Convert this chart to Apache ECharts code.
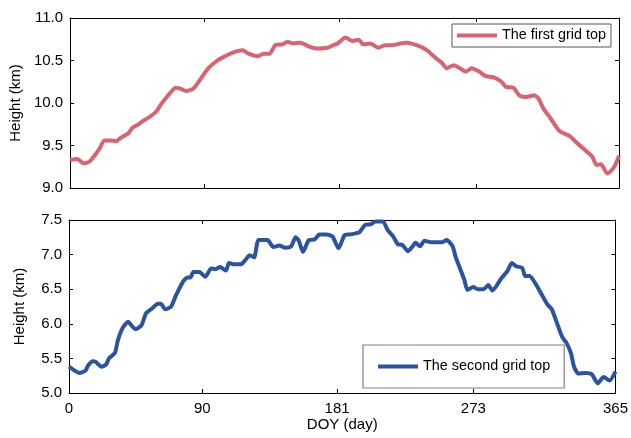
<!DOCTYPE html>
<html>
<head>
<meta charset="utf-8">
<script src="https://cdn.jsdelivr.net/npm/echarts@6/dist/echarts.min.js"></script>
<style>
html,body{margin:0;padding:0;background:#fff;}
#chart{width:631px;height:438px;}
</style>
</head>
<body>
<div id="chart"></div>
<script>
// x positions are in the chart's axis units (the axis runs 0..369, last tick labelled 365)
const xTickPos = [0, 90, 181, 273, 369];
const xTickLabels = ['0', '90', '181', '273', '365'];

const topName = 'The first grid top';
const topDoy = [0,5,9,13,16,20,23,27,31,34,39,42,45,50,53,58,61,65,71,74,78,83,88,93,99,103,109,116,120,126,130,134,138,143,146,150,155,160,166,173,177,180,185,190,194,197,202,207,212,217,222,226,233,240,245,250,253,258,262,266,270,275,279,285,290,293,298,302,306,309,312,315,318,323,329,336,340,346,351,354,357,361,365,367,369];
const topHeight = [9.33,9.34,9.29,9.31,9.37,9.47,9.56,9.56,9.55,9.59,9.64,9.71,9.74,9.80,9.83,9.90,9.98,10.07,10.18,10.17,10.14,10.17,10.29,10.41,10.50,10.54,10.59,10.62,10.58,10.55,10.58,10.58,10.68,10.69,10.72,10.70,10.71,10.67,10.64,10.65,10.68,10.70,10.77,10.73,10.745,10.69,10.70,10.65,10.68,10.68,10.70,10.71,10.68,10.62,10.54,10.47,10.41,10.445,10.41,10.37,10.41,10.37,10.32,10.30,10.25,10.19,10.18,10.09,10.07,10.08,10.09,10.05,9.94,9.82,9.67,9.61,9.54,9.45,9.37,9.27,9.28,9.17,9.23,9.29,9.38];

const bottomName = 'The second grid top';
const bottomDoy = [0,4,7,11,13,16,18,22,25,27,31,33,36,40,42,45,49,52,56,60,62,65,69,72,77,80,82,84,88,92,96,99,102,106,108,111,116,119,122,125,128,134,138,142,146,150,153,155,158,162,166,169,174,178,182,186,189,192,196,200,204,207,212,215,219,222,225,229,232,234,237,240,244,249,252,255,259,261,264,267,269,273,276,280,283,286,289,292,296,299,302,306,308,311,315,319,323,326,330,333,336,339,341,344,349,353,357,361,365,369];
const bottomHeight = [5.38,5.32,5.29,5.32,5.40,5.46,5.45,5.38,5.41,5.50,5.58,5.76,5.93,6.03,5.98,5.92,5.98,6.15,6.22,6.29,6.29,6.21,6.25,6.40,6.61,6.67,6.67,6.75,6.75,6.68,6.80,6.79,6.82,6.77,6.88,6.86,6.86,6.92,6.99,6.96,7.21,7.21,7.11,7.13,7.10,7.12,7.25,7.21,7.04,7.21,7.22,7.29,7.29,7.26,7.09,7.28,7.29,7.30,7.32,7.43,7.44,7.48,7.48,7.36,7.26,7.15,7.14,7.05,7.12,7.17,7.12,7.20,7.18,7.18,7.18,7.21,7.12,6.97,6.80,6.63,6.49,6.53,6.50,6.50,6.56,6.48,6.56,6.66,6.76,6.88,6.83,6.81,6.69,6.69,6.58,6.43,6.28,6.21,5.98,5.81,5.72,5.57,5.38,5.28,5.29,5.27,5.14,5.23,5.18,5.31];

const topYTicks = [9.0, 11.0, 0.5];
const bottomYTicks = [5.0, 7.5, 0.5];

const FONT = 'Liberation Sans, Arial, sans-serif';
const black = '#000';

function xAxis(gridIndex, position, withLabels) {
  return {
    type: 'value', gridIndex: gridIndex, position: position,
    min: 0, max: xTickPos[xTickPos.length - 1],
    name: withLabels ? 'DOY (day)' : '',
    nameLocation: 'middle', nameGap: 24,
    nameTextStyle: {color: black, fontSize: 15, fontFamily: FONT},
    axisLine: {show: true, onZero: false, lineStyle: {color: black, width: 1}},
    axisTick: {show: true, inside: true, length: 4, customValues: xTickPos, lineStyle: {color: black, width: 1}},
    axisLabel: {
      show: withLabels, customValues: xTickPos, margin: 8,
      color: black, fontSize: 15, fontFamily: FONT,
      formatter: function (v) { const i = xTickPos.indexOf(v); return i >= 0 ? xTickLabels[i] : ''; }
    },
    splitLine: {show: false}
  };
}

function yAxis(gridIndex, position, withLabels, ticks) {
  return {
    type: 'value', gridIndex: gridIndex, position: position,
    min: ticks[0], max: ticks[1], interval: ticks[2],
    name: withLabels ? 'Height (km)' : '',
    nameLocation: 'middle', nameGap: 42, nameRotate: 90,
    nameTextStyle: {color: black, fontSize: 15, fontFamily: FONT},
    axisLine: {show: true, onZero: false, lineStyle: {color: black, width: 1}},
    axisTick: {show: true, inside: true, length: 4, lineStyle: {color: black, width: 1}},
    axisLabel: {
      show: withLabels, margin: 7, color: black, fontSize: 15, fontFamily: FONT,
      showMinLabel: true, showMaxLabel: true,
      formatter: function (v) { return v.toFixed(1); }
    },
    splitLine: {show: false}
  };
}

const chart = echarts.init(document.getElementById('chart'), null, {renderer: 'canvas'});
chart.setOption({
  animation: false,
  backgroundColor: '#fff',
  grid: [
    {left: 69, right: 12, top: 18, height: 170},
    {left: 69, right: 12, top: 220, height: 173}
  ],
  legend: [
    {
      data: [topName], left: 452, top: 24, orient: 'horizontal',
      padding: [4, 5, 4, 5], itemWidth: 40, itemHeight: 4, icon: 'rect',
      borderColor: '#555', borderWidth: 1, backgroundColor: '#fff',
      textStyle: {color: black, fontSize: 14.4, fontFamily: FONT, lineHeight: 15}
    },
    {
      data: [bottomName], left: 363, top: 345, orient: 'horizontal',
      padding: [14, 14, 14, 15], itemWidth: 40, itemHeight: 4, icon: 'rect',
      borderColor: '#808080', borderWidth: 1.2, backgroundColor: '#fff',
      textStyle: {color: black, fontSize: 14.4, fontFamily: FONT, lineHeight: 15}
    }
  ],
  xAxis: [
    xAxis(0, 'bottom', false),
    xAxis(0, 'top', false),
    xAxis(1, 'bottom', true),
    xAxis(1, 'top', false)
  ],
  yAxis: [
    yAxis(0, 'left', true, topYTicks),
    yAxis(0, 'right', false, topYTicks),
    yAxis(1, 'left', true, bottomYTicks),
    yAxis(1, 'right', false, bottomYTicks)
  ],
  series: [
    {
      name: topName, type: 'line', xAxisIndex: 0, yAxisIndex: 0,
      data: topDoy.map(function (d, i) { return [d, topHeight[i]]; }),
      symbol: 'none', showSymbol: false, smooth: 0.2,
      color: '#D9646F', lineStyle: {color: '#D9646F', width: 4}
    },
    {
      name: bottomName, type: 'line', xAxisIndex: 2, yAxisIndex: 2,
      data: bottomDoy.map(function (d, i) { return [d, bottomHeight[i]]; }),
      symbol: 'none', showSymbol: false, smooth: 0.2,
      color: '#2B53A1', lineStyle: {color: '#2B53A1', width: 4}
    }
  ]
});
</script>
</body>
</html>
